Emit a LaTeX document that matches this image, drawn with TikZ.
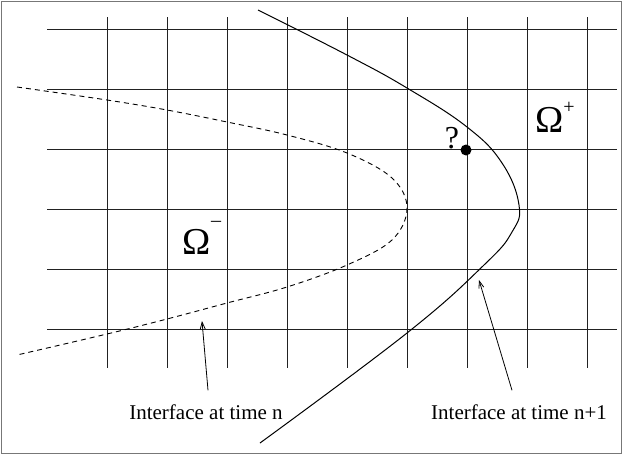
\documentclass[tikz,border=0pt]{standalone}
\usepackage{fontspec}
\setmainfont{Liberation Serif}
\usepackage{tikz}
\usetikzlibrary{arrows.meta, positioning}
\definecolor{gridgray}{HTML}{222222}
\definecolor{framegray}{HTML}{777777}
\tikzset{
  gridline/.style={line width=1pt, color=gridgray},
  oldfront/.style={line width=0.9pt, dash pattern=on 5pt off 4pt, color=black},
  newfront/.style={line width=1pt, color=black},
  pointer/.style={-{Straight Barb[length=7pt, width=5pt]}, line width=0.8pt},
  caption/.style={font=\fontsize{21}{25}\selectfont, inner sep=0pt},
  region/.style={font=\fontsize{38}{42}\selectfont, inner sep=0pt},
}

\begin{document}
\begin{tikzpicture}[x=1pt, y=-1pt]

  % Frame
  \useasboundingbox (0,0) rectangle (623,455);
  \draw[framegray, line width=1.6pt] (1.5,1.5) rectangle (621.5,453.5);

  % Grid
  \foreach \x in {107,167,...,587}
    \draw[gridline] (\x,17) -- (\x,368);
  \foreach \y in {29,89,...,329}
    \draw[gridline] (47,\y) -- (617,\y);

  % Interface at time n
  \draw[oldfront] plot[smooth, tension=0.6] coordinates {
    (17,87) (107,100) (167,110) (227,122) (287,135) (347,153)
    (392,178) (407,208) (392,240) (347,265) (287,287) (227,303)
    (167,319) (107,334) (17,355)};

  % Interface at time n+1
  \draw[newfront] plot[smooth, tension=0.7] coordinates {
    (258,10) (347,55) (407,88) (467,127) (502,163) (519,205)
    (512,232) (484,265) (407,333) (260,443)};

  % Points on the interfaces
  \coordinate (oldpt) at (202,321);
  \coordinate (newpt) at (479,280);

  % Grid point
  \fill (466,150) circle (5.5pt);
  \node[region, font=\fontsize{32}{36}\selectfont] (query) at (452,138) {?};

  % Regions
  \node[region] (plus) at (555,117) {Ω\raisebox{0.5em}{\fontsize{20}{22}\selectfont +}};
  \node[region] (minus) at (202,238) {Ω\raisebox{0.72em}{\fontsize{20}{22}\selectfont –}};

  % Labels
  \node[caption] (labeln) at (206,412) {Interface at time n};
  \node[caption] (labelnp) at (519,412) {Interface at time n+1};

  % Arrows
  \draw[pointer] (labeln.north) ++(2,-14) coordinate (fromn) -- (oldpt);
  \draw[pointer] (labelnp.north) ++(-7,-14) coordinate (fromnp) -- (newpt);

\end{tikzpicture}
\end{document}
